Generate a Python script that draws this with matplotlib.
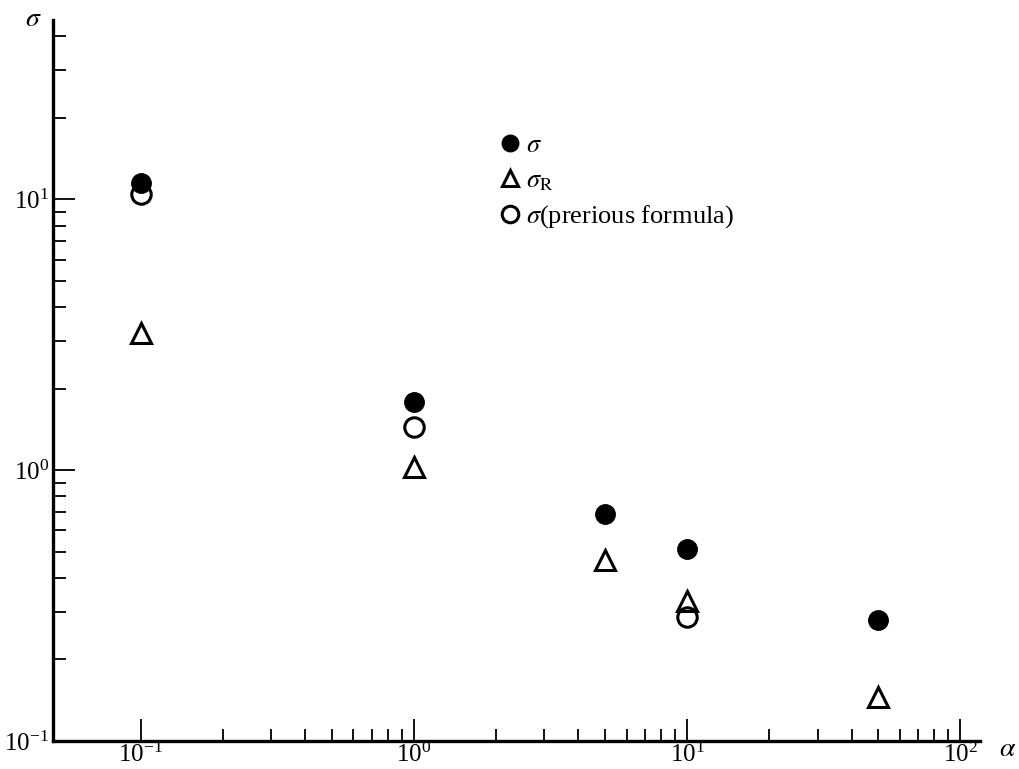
import matplotlib
matplotlib.use("Agg")
import matplotlib.pyplot as plt
from matplotlib.ticker import LogLocator, FixedLocator, NullFormatter, LogFormatterMathtext

plt.rcParams["font.family"] = ["Liberation Serif", "DejaVu Serif"]
plt.rcParams["mathtext.fontset"] = "stix"

# data
alpha_sigma = [0.1, 1, 5, 10, 50]
sigma = [11.5, 1.78, 0.69, 0.51, 0.28]

alpha_sigma_r = [0.1, 1, 5, 10, 50]
sigma_r = [3.2, 1.03, 0.466, 0.33, 0.145]

alpha_prev = [0.1, 1, 10]
sigma_prev = [10.5, 1.44, 0.287]

# minor tick marks on the alpha axis (none left of 10^-1)
x_minor = [m * 10.0 ** e for e in (-1, 0, 1) for m in range(2, 10)]

fig = plt.figure(figsize=(10.19, 7.69), dpi=100)
ax = fig.add_axes([53 / 1019, 28 / 769, (980 - 53) / 1019, (741 - 20) / 769])

ax.plot(alpha_sigma, sigma, "o", color="black", markersize=14,
        linestyle="none", label=r"$\sigma$")
ax.plot(alpha_sigma_r, sigma_r, "^", markerfacecolor="white",
        markeredgecolor="black", markeredgewidth=2.2, markersize=14,
        linestyle="none", label=r"$\sigma_{\rm R}$")
ax.plot(alpha_prev, sigma_prev, "o", markerfacecolor="none",
        markeredgecolor="black", markeredgewidth=2.2, markersize=14,
        linestyle="none", label=r"$\sigma$(prerious formula)")

ax.set_xscale("log")
ax.set_yscale("log")
ax.set_xlim(0.0477, 118)
ax.set_ylim(0.1, 46)

for side in ["top", "right"]:
    ax.spines[side].set_visible(False)
for side in ["left", "bottom"]:
    ax.spines[side].set_linewidth(2.4)

ax.xaxis.set_major_locator(LogLocator(base=10, numticks=10))
ax.xaxis.set_minor_locator(FixedLocator(x_minor))
ax.yaxis.set_major_locator(LogLocator(base=10, numticks=10))
ax.yaxis.set_minor_locator(LogLocator(base=10, subs=range(2, 10), numticks=20))
ax.xaxis.set_major_formatter(LogFormatterMathtext())
ax.yaxis.set_major_formatter(LogFormatterMathtext())
ax.xaxis.set_minor_formatter(NullFormatter())
ax.yaxis.set_minor_formatter(NullFormatter())

ax.tick_params(which="major", direction="in", length=16, width=1.3,
               labelsize=18, pad=3)
ax.tick_params(axis="x", which="major", pad=1)
ax.tick_params(which="minor", direction="in", length=9, width=1.3)

ax.text(-0.012, 1.0, r"$\sigma$", transform=ax.transAxes, fontsize=20,
        ha="right", va="center")
ax.text(1.02, -0.012, r"$\alpha$", transform=ax.transAxes, fontsize=20,
        ha="left", va="center")

ax.legend(loc="upper left", bbox_to_anchor=(0.459, 0.875), frameon=False,
          fontsize=19, handlelength=0.6, handletextpad=0.3,
          labelspacing=0.42, markerscale=0.85, numpoints=1)

fig.savefig("out.png", dpi=100)
